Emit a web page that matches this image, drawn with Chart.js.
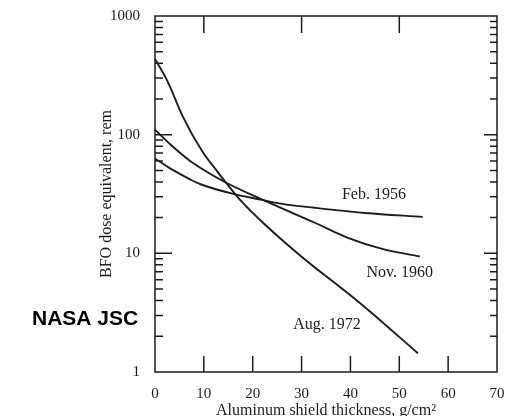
<!DOCTYPE html>
<html>
<head>
<meta charset="utf-8">
<script src="https://cdn.jsdelivr.net/npm/chart.js@4"></script>
<style>
body{margin:0;background:#fff;}
#wrap{width:521px;height:416px;position:relative;}
</style>
</head>
<body>
<div id="wrap"><canvas id="doseChart"></canvas></div>
<script>
// curves (x = g/cm2, y = rem)
var feb1956X = [0, 3.1, 7.2, 9.2, 16, 21.9, 26, 32.7, 43, 54.8];
var feb1956Y = [63, 52, 42, 38.4, 31.7, 28.2, 26.1, 24.2, 21.9, 20.3];
var nov1960X = [0, 3.1, 7.2, 13.9, 22.1, 32.7, 39.5, 46.5, 54.2];
var nov1960Y = [110, 83, 60, 40.7, 28.2, 18.1, 13.5, 10.9, 9.4];
var aug1972X = [0, 2.5, 5.7, 9.8, 12.7, 14.9, 17.8, 22.1, 29.7, 42, 53.8];
var aug1972Y = [435, 285, 142, 71, 49.3, 37.7, 27.1, 18.1, 9.6, 3.8, 1.44];

var seriesNames = ['Feb. 1956', 'Nov. 1960', 'Aug. 1972'];
var labelX = [44.8, 50.1, 35.2];
var labelY = [31, 6.8, 2.5];

var xTicks = [0, 10, 20, 30, 40, 50, 60, 70];
var yTicks = [1, 10, 100, 1000];
var xTopMarks = [10, 30, 50];
var xBottomMarks = [10, 20, 30, 40, 50, 60];
var yMajorMarks = [10, 100];

var ink = '#1c1c1c';
var serif = "'Liberation Serif', 'DejaVu Serif', serif";

var yMinorMarks = [];
[1, 10, 100].forEach(function (d) {
    for (var m = 2; m <= 9; m++) yMinorMarks.push(m * d);
});

function pts(xs, ys) {
    return xs.map(function (x, i) { return {x: x, y: ys[i]}; });
}

var frameTicks = {
    id: 'frameTicks',
    beforeDatasetsDraw: function (chart) {
        var ctx = chart.ctx, a = chart.chartArea;
        var xs = chart.scales.x, ys = chart.scales.y;
        ctx.save();
        ctx.strokeStyle = ink;
        ctx.lineWidth = 1.5;
        ctx.strokeRect(a.left, a.top, a.right - a.left, a.bottom - a.top);
        ctx.beginPath();
        yMinorMarks.concat(yMajorMarks).forEach(function (v) {
            var y = ys.getPixelForValue(v);
            var major = yMajorMarks.indexOf(v) >= 0;
            ctx.moveTo(a.left, y);
            ctx.lineTo(a.left + (major ? 17 : 8), y);
            ctx.moveTo(a.right, y);
            ctx.lineTo(a.right - (major ? 13 : 7), y);
        });
        xBottomMarks.forEach(function (v) {
            var x = xs.getPixelForValue(v);
            ctx.moveTo(x, a.bottom);
            ctx.lineTo(x, a.bottom - 16);
        });
        xTopMarks.forEach(function (v) {
            var x = xs.getPixelForValue(v);
            ctx.moveTo(x, a.top);
            ctx.lineTo(x, a.top + 17);
        });
        ctx.stroke();
        ctx.restore();
    },
    afterDatasetsDraw: function (chart) {
        var ctx = chart.ctx;
        var xs = chart.scales.x, ys = chart.scales.y;
        ctx.save();
        ctx.fillStyle = ink;
        ctx.font = '16px ' + serif;
        ctx.textAlign = 'center';
        ctx.textBaseline = 'middle';
        seriesNames.forEach(function (name, i) {
            ctx.fillText(name, xs.getPixelForValue(labelX[i]), ys.getPixelForValue(labelY[i]));
        });
        ctx.fillStyle = '#000';
        ctx.font = "bold 21px 'Liberation Sans', Arial, sans-serif";
        ctx.textAlign = 'left';
        ctx.textBaseline = 'alphabetic';
        ctx.fillText('NASA JSC', 32, 325);
        ctx.restore();
    }
};

var ctxD = document.getElementById('doseChart').getContext('2d');
var doseChart = new Chart(ctxD, {
    type: 'scatter',
    data: {
        datasets: [
            {label: seriesNames[0], data: pts(feb1956X, feb1956Y)},
            {label: seriesNames[1], data: pts(nov1960X, nov1960Y)},
            {label: seriesNames[2], data: pts(aug1972X, aug1972Y)}
        ].map(function (d) {
            d.showLine = true;
            d.borderColor = ink;
            d.borderWidth = 1.9;
            d.pointRadius = 0;
            d.cubicInterpolationMode = 'monotone';
            return d;
        })
    },
    options: {
        responsive: true,
        maintainAspectRatio: false,
        animation: false,
        layout: {padding: {left: 97, right: 24, top: 14, bottom: 0}},
        plugins: {legend: {display: false}, tooltip: {enabled: false}},
        scales: {
            x: {
                type: 'linear',
                position: 'bottom',
                min: 0,
                max: 70,
                afterBuildTicks: function (s) { s.ticks = xTicks.map(function (v) { return {value: v}; }); },
                afterFit: function (s) { s.height = 44; },
                grid: {display: false},
                border: {display: false},
                ticks: {color: ink, font: {family: serif, size: 15}, padding: 5, maxRotation: 0, autoSkip: false},
                title: {display: true, text: 'Aluminum shield thickness, g/cm\u00b2', color: ink,
                    font: {family: serif, size: 16}, padding: {top: 0, bottom: -4}}
            },
            y: {
                type: 'logarithmic',
                min: 1,
                max: 1000,
                afterBuildTicks: function (s) { s.ticks = yTicks.map(function (v) { return {value: v}; }); },
                afterFit: function (s) { s.width = 58; },
                grid: {display: false},
                border: {display: false},
                ticks: {color: ink, font: {family: serif, size: 15}, padding: 7, autoSkip: false,
                    callback: function (v) { return String(v); }},
                title: {display: true, text: 'BFO dose equivalent, rem', color: ink,
                    font: {family: serif, size: 16}, padding: {top: 0, bottom: 0}}
            }
        }
    },
    plugins: [frameTicks]
});
</script>
</body>
</html>
